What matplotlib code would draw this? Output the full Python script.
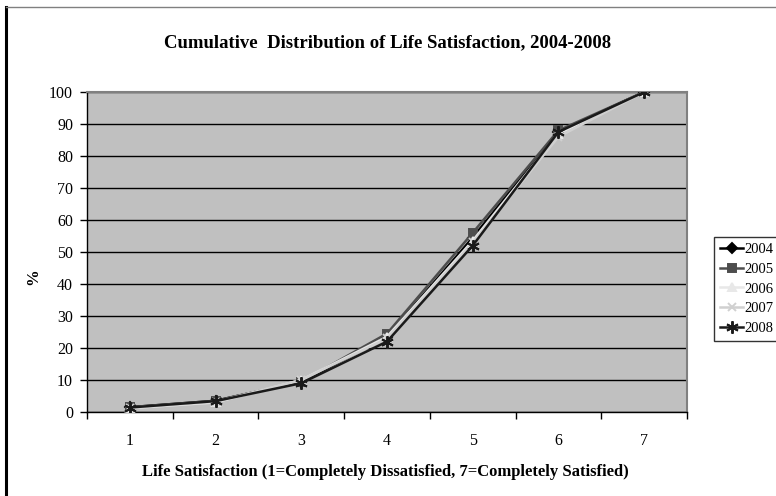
import matplotlib
matplotlib.use('Agg')
import matplotlib.pyplot as plt
from matplotlib.lines import Line2D

plt.rcParams['font.family'] = ['Liberation Serif', 'DejaVu Serif']

levels = [1, 2, 3, 4, 5, 6, 7]
y2004 = [1.5, 3.5, 9.5, 23.5, 54.5, 87.5, 100]
y2005 = [1.5, 3.5, 9.5, 24.5, 56.0, 88.0, 100]
y2006 = [1.2, 3.0, 10.0, 23.5, 53.5, 87.0, 100]
y2007 = [1.3, 3.2, 10.0, 23.0, 53.0, 86.0, 100]
y2008 = [1.4, 3.4, 9.0, 22.0, 52.0, 87.5, 100]
yticks = list(range(0, 101, 10))

fig = plt.figure(figsize=(7.76, 4.96), dpi=100)
ax = fig.add_axes([87/776, 84/496, 600/776, 320/496])
ax.set_facecolor('#c0c0c0')

styles = [
    ('2004', y2004, '#000000', 'D', 5, '#000000'),
    ('2005', y2005, '#4d4d4d', 's', 6, '#4d4d4d'),
    ('2006', y2006, '#e8e8e8', '^', 6, '#e8e8e8'),
    ('2007', y2007, '#d0d0d0', 'x', 6, '#d0d0d0'),
    ('2008', y2008, '#1a1a1a', (6, 2, 0), 9, '#1a1a1a'),
]
handles = []
for lab, ys, col, mk, ms, mc in styles:
    h, = ax.plot(levels, ys, color=col, lw=1.8, marker=mk, ms=ms,
                 mfc=mc, mec=mc, mew=1.4, label=lab, zorder=3)
    handles.append(h)

ax.set_xlim(0.5, 7.5)
ax.set_ylim(0, 100)
ax.set_yticks(yticks)
ax.set_xticks(levels)
ax.set_xticks([l + 0.5 for l in [0] + levels], minor=True)
ax.tick_params(axis='x', which='major', length=0, pad=15, labelsize=11.5)
ax.tick_params(axis='x', which='minor', length=5, direction='out', width=1)
ax.tick_params(axis='y', length=5, direction='out', width=1, pad=5, labelsize=11.5)
ax.yaxis.grid(True, color='#000000', lw=1)
ax.set_axisbelow(True)
for s in ['top', 'right']:
    ax.spines[s].set_color('#808080')
    ax.spines[s].set_linewidth(1.5)
for s in ['left', 'bottom']:
    ax.spines[s].set_color('#000000')
    ax.spines[s].set_linewidth(1)

fig.text(388/776, 1 - 43/496, 'Cumulative  Distribution of Life Satisfaction, 2004-2008',
         ha='center', va='center', fontsize=13.5, fontweight='bold')
fig.text(385/776, 1 - 472/496,
         'Life Satisfaction (1=Completely Dissatisfied, 7=Completely Satisfied)',
         ha='center', va='center', fontsize=12, fontweight='bold')
fig.text(33/776, 1 - 277/496, '%', ha='center', va='center', rotation=90,
         fontsize=12, fontweight='bold')

leg = fig.legend(handles=handles, loc='upper left',
                 bbox_to_anchor=(714/776, 1 - 237/496), frameon=True,
                 fancybox=False, edgecolor='#000000', fontsize=10.5,
                 handlelength=1.6, handletextpad=0.1, labelspacing=0.45,
                 borderpad=0.4, borderaxespad=0)
leg.get_frame().set_linewidth(1)

# outer chart border (left and top visible)
fig.add_artist(Line2D([6/776, 6/776], [0, 1 - 7/496], color='#000000', lw=2.2,
                      transform=fig.transFigure))
fig.add_artist(Line2D([6/776, 1], [1 - 7/496, 1 - 7/496], color='#808080', lw=1,
                      transform=fig.transFigure))

fig.savefig('out.png', dpi=100)
